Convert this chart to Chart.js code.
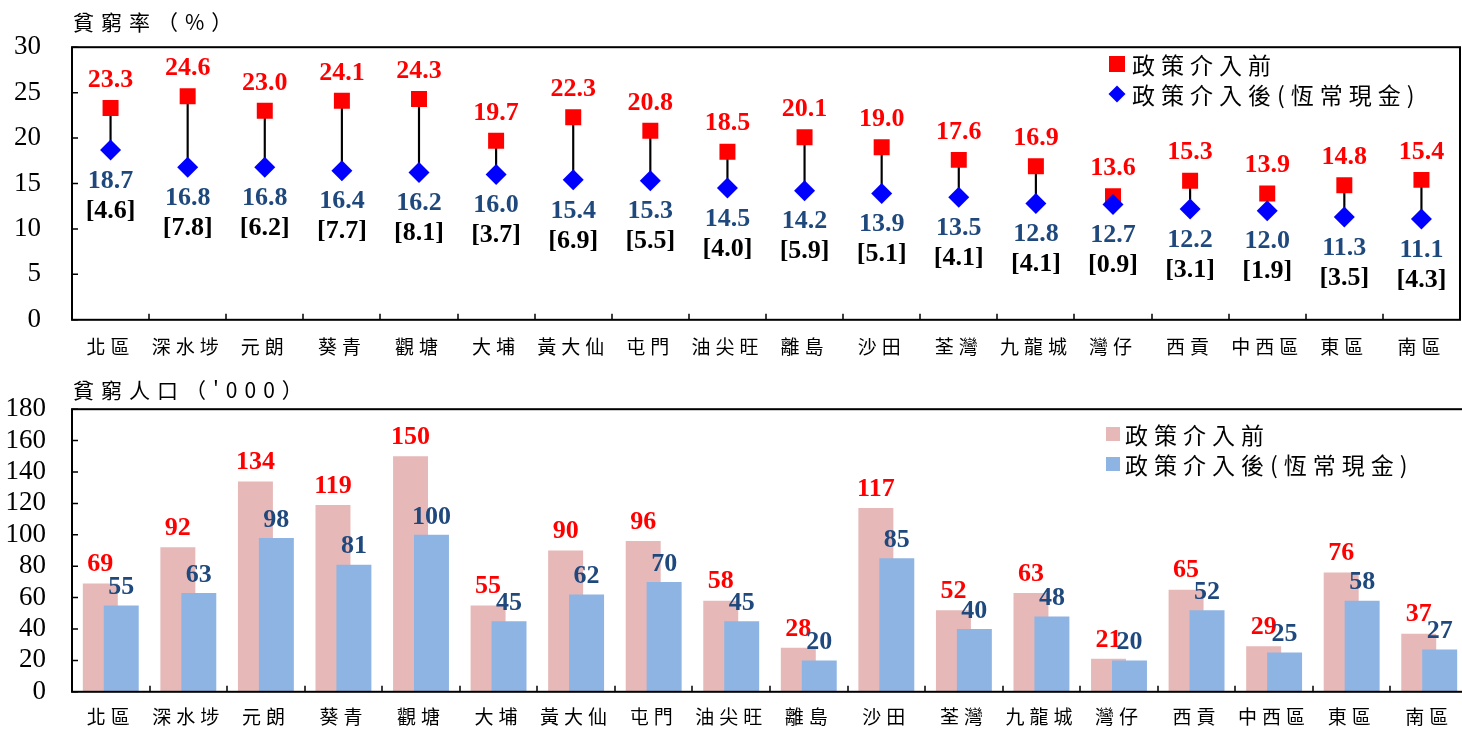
<!DOCTYPE html>
<html lang="zh-Hant">
<head>
<meta charset="utf-8">
<script src="https://cdn.jsdelivr.net/npm/chart.js@4.4.0/dist/chart.umd.min.js"></script>
<style>
  html, body { margin: 0; padding: 0; background: #fff; overflow: hidden; }
  body { width: 1462px; height: 734px; position: relative; }
  .box { position: absolute; left: 0; }
  #top { top: 0; width: 1462px; height: 367px; }
  #bottom { top: 367px; width: 1470px; height: 367px; }
  .title { position: absolute; left: 73px; font: 21px 'Noto Sans CJK TC'; letter-spacing: 7px; line-height: 26px; color: #000; }
  .legend { position: absolute; font: 23px 'Noto Sans CJK TC'; letter-spacing: 6px; color: #000; }
  .legend div { height: 30px; display: flex; align-items: center; white-space: nowrap; }
  .mk { display: inline-block; margin-right: 7px; flex: none; }
</style>
</head>
<body>
<div class="box" id="top"><canvas id="rateChart"></canvas></div>
<div class="box" id="bottom"><canvas id="popChart"></canvas></div>

<div class="title" style="top:8px;">貧窮率（%）</div>
<div class="title" style="top:376px;">貧窮人口（'000）</div>

<div class="legend" style="left:1109px; top:49px;">
  <div><span class="mk" style="width:16px;height:16px;background:#FF0000;"></span>政策介入前</div>
  <div><span class="mk" style="width:12px;height:12px;background:#0000FF;transform:rotate(45deg);margin-left:2px;margin-right:9px;"></span>政策介入後(恆常現金)</div>
</div>
<div class="legend" style="left:1106px; top:419px;">
  <div><span class="mk" style="width:14px;height:14px;background:#E6B9B8;margin-right:5px;"></span>政策介入前</div>
  <div><span class="mk" style="width:14px;height:14px;background:#8EB4E3;margin-right:5px;"></span>政策介入後(恆常現金)</div>
</div>

<script>
const districts = ['北區', '深水埗', '元朗', '葵青', '觀塘', '大埔', '黃大仙', '屯門', '油尖旺',
  '離島', '沙田', '荃灣', '九龍城', '灣仔', '西貢', '中西區', '東區', '南區'];

// poverty rate (%)
const rateBefore = [23.3, 24.6, 23.0, 24.1, 24.3, 19.7, 22.3, 20.8, 18.5, 20.1, 19.0, 17.6, 16.9, 13.6, 15.3, 13.9, 14.8, 15.4];
const rateAfter = [18.7, 16.8, 16.8, 16.4, 16.2, 16.0, 15.4, 15.3, 14.5, 14.2, 13.9, 13.5, 12.8, 12.7, 12.2, 12.0, 11.3, 11.1];
const rateDrop = [4.6, 7.8, 6.2, 7.7, 8.1, 3.7, 6.9, 5.5, 4.0, 5.9, 5.1, 4.1, 4.1, 0.9, 3.1, 1.9, 3.5, 4.3];

// poor population ('000)
const popBefore = [69, 92, 134, 119, 150, 55, 90, 96, 58, 28, 117, 52, 63, 21, 65, 29, 76, 37];
const popAfter = [55, 63, 98, 81, 100, 45, 62, 70, 45, 20, 85, 40, 48, 20, 52, 25, 58, 27];

const rateMax = 30, rateStep = 5;
const popMax = 180, popStep = 20;

const RED = '#FF0000', NAVY = '#1F497D';
const numFont = "bold 26px 'Liberation Serif'";

// spread out the CJK category labels a bit
const spacedLabels = {
  id: 'spacedLabels',
  beforeDraw(chart) {
    const s = chart.scales.x;
    if (s._spaced) return;
    const draw = s.drawLabels;
    s.drawLabels = function (area) {
      this.ctx.save();
      this.ctx.letterSpacing = '5px';
      draw.call(this, area);
      this.ctx.restore();
    };
    s._spaced = true;
  }
};

// box around the plot + inward tick marks
const frame = {
  id: 'frame',
  afterDraw(chart) {
    const { ctx, chartArea: a, scales: { x, y } } = chart;
    ctx.save();
    ctx.strokeStyle = '#000';
    ctx.lineWidth = 1.5;
    ctx.beginPath();
    for (let i = 1; i < x.ticks.length; i++) {
      const px = Math.round((x.getPixelForTick(i - 1) + x.getPixelForTick(i)) / 2);
      ctx.moveTo(px, a.bottom);
      ctx.lineTo(px, a.bottom - 6);
    }
    y.ticks.forEach((t, i) => {
      const py = y.getPixelForTick(i);
      ctx.moveTo(a.left, py);
      ctx.lineTo(a.left + 6, py);
    });
    ctx.stroke();
    ctx.lineWidth = 2;
    ctx.strokeRect(a.left, a.top, a.right - a.left, a.bottom - a.top);
    ctx.restore();
  }
};

const rateLabels = {
  id: 'rateLabels',
  afterDatasetsDraw(chart) {
    const ctx = chart.ctx;
    const pre = chart.getDatasetMeta(1).data;
    const post = chart.getDatasetMeta(2).data;
    ctx.save();
    ctx.font = numFont;
    ctx.textAlign = 'center';
    ctx.textBaseline = 'middle';
    districts.forEach((d, i) => {
      ctx.fillStyle = RED;
      ctx.fillText(rateBefore[i].toFixed(1), pre[i].x, pre[i].y - 28);
      ctx.fillStyle = NAVY;
      ctx.fillText(rateAfter[i].toFixed(1), post[i].x, post[i].y + 31);
      ctx.fillStyle = '#000';
      ctx.fillText('[' + rateDrop[i].toFixed(1) + ']', post[i].x, post[i].y + 61);
    });
    ctx.restore();
  }
};

// pink bars sit behind the blue ones
const pinkBehind = {
  id: 'pinkBehind',
  beforeDatasetDraw(chart, args) {
    if (args.index === 0) return false;
    if (args.index === 1) chart.getDatasetMeta(0).controller.draw();
  }
};

const popLabels = {
  id: 'popLabels',
  afterDatasetsDraw(chart) {
    const ctx = chart.ctx;
    const a = chart.getDatasetMeta(0).data;
    const b = chart.getDatasetMeta(1).data;
    ctx.save();
    ctx.font = numFont;
    ctx.textAlign = 'center';
    ctx.textBaseline = 'middle';
    districts.forEach((d, i) => {
      ctx.fillStyle = RED;
      ctx.fillText(String(popBefore[i]), a[i].x, a[i].y - 19);
      ctx.fillStyle = NAVY;
      ctx.fillText(String(popAfter[i]), b[i].x, b[i].y - 18);
    });
    ctx.restore();
  }
};

const xAxis = (pad, h) => ({
  offset: true,
  grid: { display: false, drawTicks: false },
  border: { display: false },
  ticks: { color: '#000', font: { family: "'Noto Sans CJK TC'", size: 19 }, padding: pad, maxRotation: 0, autoSkip: false },
  afterFit(s) { s.height = h; }
});

const yAxis = (max, step, pad) => ({
  min: 0,
  max: max,
  grid: { display: false, drawTicks: false },
  border: { display: false },
  ticks: { stepSize: step, color: '#000', font: { family: "'Liberation Serif'", size: 27 }, padding: pad },
  afterFit(s) { s.width = 72; }
});

new Chart(document.getElementById('rateChart'), {
  data: {
    labels: districts,
    datasets: [
      { type: 'bar', data: rateAfter.map((v, i) => [v, rateBefore[i]]), backgroundColor: '#000', barThickness: 1.5, order: 2 },
      { type: 'line', data: rateBefore, showLine: false, pointStyle: 'rect', pointRadius: 11.3,
        pointBackgroundColor: RED, pointBorderWidth: 0, order: 1 },
      { type: 'line', data: rateAfter, showLine: false, pointStyle: 'rectRot', pointRadius: 10.5,
        pointBackgroundColor: '#0000FF', pointBorderWidth: 0, order: 0 }
    ]
  },
  options: {
    responsive: true,
    maintainAspectRatio: false,
    animation: false,
    layout: { autoPadding: false, padding: { top: 41, right: 2, left: 0, bottom: 0 } },
    plugins: { legend: { display: false }, tooltip: { enabled: false } },
    scales: { x: xAxis(16, 45), y: yAxis(rateMax, rateStep, 31) }
  },
  plugins: [spacedLabels, frame, rateLabels]
});

new Chart(document.getElementById('popChart'), {
  type: 'bar',
  data: {
    labels: districts,
    datasets: [
      { data: popBefore, backgroundColor: '#E6B9B8', categoryPercentage: 0.54, barPercentage: 1.67 },
      { data: popAfter, backgroundColor: '#8EB4E3', categoryPercentage: 0.54, barPercentage: 1.67 }
    ]
  },
  options: {
    responsive: true,
    maintainAspectRatio: false,
    animation: false,
    layout: { autoPadding: false, padding: { top: 42, right: 2, left: 0, bottom: 0 } },
    plugins: { legend: { display: false }, tooltip: { enabled: false } },
    scales: { x: xAxis(14, 41), y: yAxis(popMax, popStep, 26) }
  },
  plugins: [spacedLabels, frame, pinkBehind, popLabels]
});
</script>
</body>
</html>
